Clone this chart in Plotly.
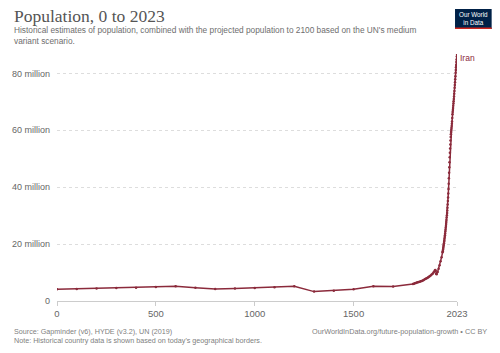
import plotly.graph_objects as go

# ---- data (population in millions) ----
years_early = [0, 100, 200, 300, 400, 500, 600, 700, 800, 900, 1000, 1100, 1200, 1300, 1400, 1500, 1600, 1700]
pop_early = [4.1, 4.25, 4.4, 4.6, 4.7, 4.9, 5.2, 4.7, 4.2, 4.4, 4.6, 4.8, 5.2, 3.3, 3.6, 4.1, 5.2, 5.1]

years_mid = [1800, 1805, 1810, 1815, 1820, 1825, 1830, 1835, 1840, 1845, 1850, 1855, 1860, 1865, 1870,
             1875, 1880, 1885, 1890, 1895, 1900, 1905, 1910, 1913, 1915, 1917, 1920, 1925, 1930, 1935,
             1940, 1945]
pop_mid = [6.0, 6.1, 6.2, 6.3, 6.5, 6.6, 6.7, 6.8, 6.9, 7.0, 7.2, 7.4, 7.6, 7.8, 8.0,
           8.2, 8.4, 8.7, 9.0, 9.3, 9.6, 10.1, 10.6, 10.9, 10.6, 9.6, 9.4, 10.2, 11.3, 12.6,
           14.0, 15.4]

years_modern = list(range(1950, 2024))
pop_modern = [17.1, 17.5, 17.9, 18.3, 18.8, 19.3, 19.8, 20.3, 20.8, 21.3,
              21.9, 22.5, 23.1, 23.7, 24.4, 25.0, 25.7, 26.4, 27.1, 27.8,
              28.5, 29.3, 30.1, 30.9, 31.8, 32.8, 33.9, 35.1, 36.4, 37.8,
              39.4, 41.2, 43.1, 45.1, 47.0, 48.8, 50.5, 52.1, 53.6, 55.0,
              56.4, 57.6, 58.6, 59.4, 60.1, 60.8, 61.5, 62.3, 63.1, 64.3,
              65.6, 66.4, 67.1, 67.8, 68.6, 69.4, 70.2, 71.0, 71.9, 72.8,
              73.8, 74.9, 75.9, 76.9, 77.9, 79.0, 80.2, 81.2, 82.1, 82.9,
              84.0, 84.9, 85.9, 86.8]

years = years_early + years_mid + years_modern
population = [v * 1e6 for v in pop_early + pop_mid + pop_modern]

country = "Iran"
y_tick_vals = [0, 20e6, 40e6, 60e6, 80e6]
y_tick_text = ["0", "20 million", "40 million", "60 million", "80 million"]
x_tick_vals = [0, 500, 1000, 1500, 2023]
x_tick_text = ["0", "500", "1000", "1500", "2023"]

title = "Population, 0 to 2023"
subtitle = ("Historical estimates of population, combined with the projected population to 2100 based on the UN's medium"
            "<br>variant scenario.")
source = "Source: Gapminder (v6), HYDE (v3.2), UN (2019)"
note = "Note: Historical country data is shown based on today's geographical borders."
url = "OurWorldInData.org/future-population-growth • CC BY"

# ---- layout geometry ----
W, H = 500, 353
L, R, T, B = 53, 457, 54, 301
LINE = "#8b2a3b"
FONT = "Liberation Sans, Arial, sans-serif"


def px(x):
    return (x - L) / (R - L)


def py(y):
    return (B - y) / (B - T)


def note_at(x, y, text, size, color, xanchor="left", family=FONT, align="left"):
    return dict(x=px(x), y=py(y), xref="paper", yref="paper", text=text, showarrow=False,
                xanchor=xanchor, yanchor="middle", align=align,
                font=dict(family=family, size=size, color=color))


fig = go.Figure()
fig.add_trace(go.Scatter(
    x=years, y=population, mode="lines+markers",
    line=dict(color=LINE, width=1.5),
    marker=dict(color=LINE, size=2.5),
    hoverinfo="skip", showlegend=False,
))

annotations = [
    note_at(8, 16, title, 17.5, "#555555", family="Liberation Serif, Georgia, serif"),
    note_at(8, 36, subtitle, 8.3, "#6e6e6e"),
    note_at(8, 336, source + "<br>" + note, 7.2, "#808080"),
    note_at(489, 331.5, url, 7.3, "#808080", xanchor="right", align="right"),
    note_at(458, 58, country, 8.5, LINE),
    note_at(473.5, 18.5, "Our World<br>in Data", 6.3, "#ffffff", xanchor="center", align="center"),
]

shapes = [
    dict(type="rect", xref="paper", yref="paper", x0=px(455), x1=px(492), y0=py(29), y1=py(9),
         fillcolor="#002147", line=dict(width=0), layer="below"),
    dict(type="rect", xref="paper", yref="paper", x0=px(455), x1=px(492), y0=py(29), y1=py(27.5),
         fillcolor="#ce261e", line=dict(width=0), layer="below"),
]

fig.update_layout(
    width=W, height=H,
    margin=dict(l=L, r=W - R, t=T, b=H - B, pad=0),
    paper_bgcolor="white", plot_bgcolor="white",
    font=dict(family=FONT, color="#666666"),
    annotations=annotations,
    shapes=shapes,
    xaxis=dict(range=[0, 2023], tickvals=x_tick_vals, ticktext=x_tick_text,
               showgrid=False, zeroline=False, showline=True, linecolor="#cccccc", linewidth=1,
               ticks="outside", ticklen=4, tickcolor="#cccccc",
               tickfont=dict(size=9.5, color="#666666")),
    yaxis=dict(range=[0, 86.8e6], tickvals=y_tick_vals, ticktext=y_tick_text,
               showgrid=True, gridcolor="#dddddd", griddash="dot", gridwidth=1,
               zeroline=False, showline=False, ticks="", ticklabelstandoff=6,
               tickfont=dict(size=9, color="#666666")),
)

fig.write_html("out.html")
